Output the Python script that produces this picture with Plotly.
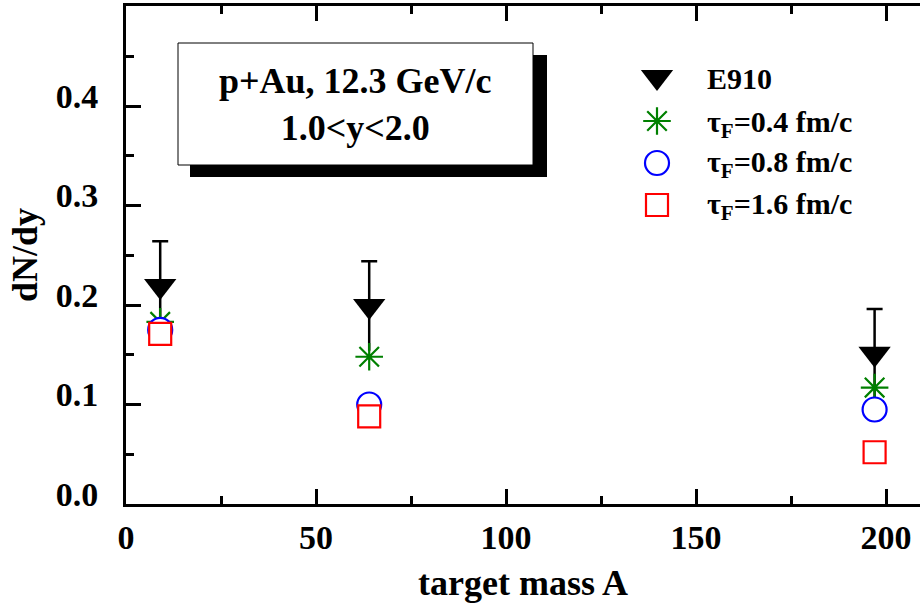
import plotly.graph_objects as go

# ---------------- data ----------------
target_A = [9, 64, 197]
e910_dndy = [0.219, 0.199, 0.151]
e910_err = [0.045, 0.045, 0.045]
tau04_dndy = [0.183, 0.148, 0.117]
tau08_dndy = [0.175, 0.100, 0.095]
tau16_dndy = [0.171, 0.088, 0.052]

legend_labels = ["E910", "τ<sub>F</sub>=0.4 fm/c", "τ<sub>F</sub>=0.8 fm/c", "τ<sub>F</sub>=1.6 fm/c"]
y_tickvals = [0.0, 0.1, 0.2, 0.3, 0.4]
y_ticktext = ["0.0", "0.1", "0.2", "0.3", "0.4"]
y_minorvals = [0.05, 0.15, 0.25, 0.35, 0.45]
x_tickvals = [0, 50, 100, 150, 200]
x_minorvals = [25, 75, 125, 175]

# ---------------- styles ----------------
FONT = "Liberation Serif, Times New Roman, Times, serif"
BLACK = "#000000"
GREEN = "#008000"
BLUE = "#0000ff"
RED = "#ff0000"

W, H = 920, 612
ML, MR, MT, MB = 126, 0, 6, 108
PX_PER_A = 3.8
PX_PER_Y = 995.0
X_MAX = (W - ML - MR) / PX_PER_A
Y_MAX = (H - MT - MB) / PX_PER_Y

fig = go.Figure()

# lower error bars (no cap)
fig.add_trace(go.Scatter(
    x=target_A, y=e910_dndy, mode="markers",
    marker=dict(size=1, color="rgba(0,0,0,0)"),
    error_y=dict(type="data", symmetric=False, array=[0] * len(e910_err), arrayminus=e910_err,
                 color=BLACK, thickness=2.5, width=0),
    showlegend=False, hoverinfo="skip"))
# E910 with upper error bars
fig.add_trace(go.Scatter(
    x=target_A, y=e910_dndy, mode="markers", name="E910",
    marker=dict(symbol="triangle-down", size=28, color=BLACK, line=dict(width=0)),
    error_y=dict(type="data", symmetric=False, array=e910_err, arrayminus=[0] * len(e910_err),
                 color=BLACK, thickness=2.5, width=8),
    showlegend=False))
fig.add_trace(go.Scatter(
    x=target_A, y=tau04_dndy, mode="markers",
    marker=dict(symbol="asterisk-open", size=23, color=GREEN, line=dict(color=GREEN, width=2.2)),
    showlegend=False))
fig.add_trace(go.Scatter(
    x=target_A, y=tau08_dndy, mode="markers",
    marker=dict(symbol="circle", size=24, color="white", line=dict(color=BLUE, width=2.2)),
    showlegend=False))
fig.add_trace(go.Scatter(
    x=target_A, y=tau16_dndy, mode="markers",
    marker=dict(symbol="square", size=22, color="white", line=dict(color=RED, width=2.2)),
    showlegend=False))

# ---------------- legend (keys drawn on a pixel overlay axis) ----------------
KEY_X = 657
KEY_Y = [77, 121, 163, 205]
TEXT_X = 705
TEXT_Y = [78, 124, 164, 206]
key_styles = [
    dict(symbol="triangle-down", size=28, color=BLACK, line=dict(width=0)),
    dict(symbol="asterisk-open", size=23, color=GREEN, line=dict(color=GREEN, width=2.2)),
    dict(symbol="circle", size=24, color="white", line=dict(color=BLUE, width=2.2)),
    dict(symbol="square", size=22, color="white", line=dict(color=RED, width=2.2)),
]
for ky, st in zip(KEY_Y, key_styles):
    fig.add_trace(go.Scatter(x=[KEY_X], y=[ky], mode="markers", marker=st,
                             xaxis="x3", yaxis="y3", showlegend=False, hoverinfo="skip"))

annotations = []
for lbl, ty in zip(legend_labels, TEXT_Y):
    annotations.append(dict(xref="x3", yref="y3", x=TEXT_X, y=ty, text="<b>" + lbl + "</b>",
                            showarrow=False, xanchor="left", yanchor="middle",
                            font=dict(family=FONT, size=30, color=BLACK)))

# info box with drop shadow
annotations.append(dict(xref="x3", yref="y3", x=355.5, y=104,
                        text="<b>p+Au, 12.3 GeV/c</b><br><b>1.0&lt;y&lt;2.0</b>", showarrow=False,
                        xanchor="center", yanchor="middle", align="center",
                        font=dict(family=FONT, size=36, color=BLACK)))
shapes = [
    dict(type="rect", xref="x3", yref="y3", x0=190, x1=547, y0=55, y1=177,
         fillcolor=BLACK, line=dict(width=0), layer="below"),
    dict(type="rect", xref="x3", yref="y3", x0=178, x1=533, y0=43, y1=165,
         fillcolor="white", line=dict(color=BLACK, width=1), layer="below"),
]

tickfont = dict(family=FONT, size=34, color=BLACK, weight="bold")
titlefont = dict(family=FONT, size=36, color=BLACK, weight="bold")

fig.update_layout(
    width=W, height=H,
    margin=dict(l=ML, r=MR, t=MT, b=MB, pad=0),
    paper_bgcolor="white", plot_bgcolor="white",
    showlegend=False,
    annotations=annotations,
    shapes=shapes,
    xaxis=dict(
        range=[0, X_MAX], tickmode="array", tickvals=x_tickvals,
        ticks="inside", ticklen=15, tickwidth=2.5, tickcolor=BLACK,
        minor=dict(tickmode="array", tickvals=x_minorvals, ticks="inside", ticklen=8,
                   tickwidth=2.5, tickcolor=BLACK, showgrid=False),
        showline=True, linewidth=3, linecolor=BLACK, mirror="ticks",
        showgrid=False, zeroline=False, tickfont=tickfont, ticklabelstandoff=1,
        title=dict(text="target mass A", font=titlefont, standoff=16),
    ),
    yaxis=dict(
        range=[0, Y_MAX], tickmode="array", tickvals=y_tickvals, ticktext=y_ticktext,
        ticks="inside", ticklen=15, tickwidth=2.5, tickcolor=BLACK,
        minor=dict(tickmode="array", tickvals=y_minorvals, ticks="inside", ticklen=8,
                   tickwidth=2.5, tickcolor=BLACK, showgrid=False),
        showline=True, linewidth=3, linecolor=BLACK, mirror=False,
        showgrid=False, zeroline=False, tickfont=tickfont,
        ticklabelshift=-10, ticklabelstandoff=18,
        title=dict(text="dN/dy", font=titlefont, standoff=8),
    ),
    yaxis2=dict(
        overlaying="y", side="right", anchor="x", range=[0, Y_MAX],
        tickmode="array", tickvals=y_tickvals, showticklabels=False,
        ticks="inside", ticklen=13, tickwidth=2.5, tickcolor=BLACK,
        minor=dict(tickmode="array", tickvals=y_minorvals, ticks="inside", ticklen=5,
                   tickwidth=2.5, tickcolor=BLACK, showgrid=False),
        showline=False, showgrid=False, zeroline=False,
    ),
    xaxis3=dict(overlaying="x", anchor="y3", range=[ML, W - MR], visible=False, fixedrange=True),
    yaxis3=dict(overlaying="y", anchor="x3", range=[H - MB, MT], visible=False, fixedrange=True),
)

fig.write_html("out.html", config={"displayModeBar": False},
               post_script="document.body.style.margin='0px';")
